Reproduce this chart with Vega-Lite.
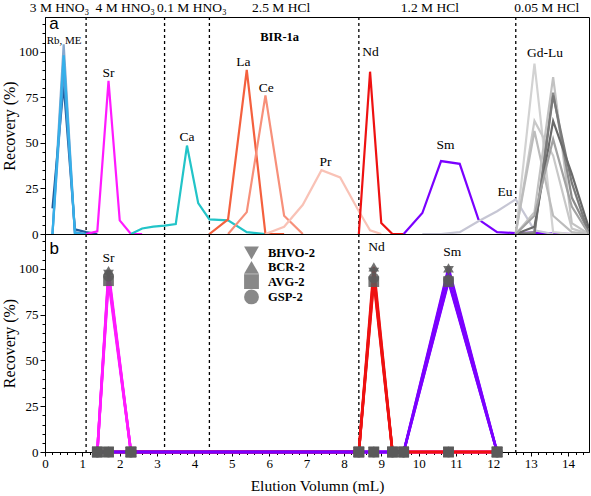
{
  "$schema": "https://vega.github.io/schema/vega-lite/v6.json",
  "padding": {"left": 0, "top": 0, "right": 3, "bottom": 0},
  "spacing": 0,
  "bounds": "flush",
  "config": {
    "font": "Liberation Serif",
    "view": {"stroke": "black", "strokeWidth": 1},
    "axis": {"labelFont": "Liberation Serif", "titleFont": "Liberation Serif", "labelFontSize": 13, "titleFontSize": 16, "titleFontWeight": "normal", "labelColor": "black", "titleColor": "black", "domainColor": "black", "tickColor": "black", "grid": false, "labelOverlap": false, "labelFlush": false},
    "legend": {"labelFont": "Liberation Serif", "labelFontSize": 12.5, "labelFontWeight": "bold", "labelColor": "black"}
  },
  "datasets": {
    "dashes": [{"x": 1.1}, {"x": 3.2}, {"x": 4.4}, {"x": 8.4}, {"x": 12.6}],
    "a": [
      {"s": "ME3", "x": 0.2, "y": 0}, {"s": "ME3", "x": 0.5, "y": 104}, {"s": "ME3", "x": 0.8, "y": 0}, {"s": "ME3", "x": 1.1, "y": 0},
      {"s": "Rb", "x": 0.2, "y": 14}, {"s": "Rb", "x": 0.5, "y": 82}, {"s": "Rb", "x": 0.8, "y": 2.5}, {"s": "Rb", "x": 1.1, "y": 1}, {"s": "Rb", "x": 1.4, "y": 0},
      {"s": "ME2", "x": 0.2, "y": 0}, {"s": "ME2", "x": 0.5, "y": 90}, {"s": "ME2", "x": 0.8, "y": 1}, {"s": "ME2", "x": 1.1, "y": 0},
      {"s": "ME1", "x": 0.2, "y": 0}, {"s": "ME1", "x": 0.5, "y": 98}, {"s": "ME1", "x": 0.8, "y": 0.5}, {"s": "ME1", "x": 1.1, "y": 0},
      {"s": "Sr", "x": 1.1, "y": 0}, {"s": "Sr", "x": 1.4, "y": 1.5}, {"s": "Sr", "x": 1.7, "y": 84}, {"s": "Sr", "x": 2.0, "y": 7.5}, {"s": "Sr", "x": 2.3, "y": 0}, {"s": "Sr", "x": 2.6, "y": 0},
      {"s": "Ca", "x": 2.3, "y": 0}, {"s": "Ca", "x": 2.6, "y": 3}, {"s": "Ca", "x": 2.9, "y": 4}, {"s": "Ca", "x": 3.2, "y": 4.6}, {"s": "Ca", "x": 3.5, "y": 5.5}, {"s": "Ca", "x": 3.8, "y": 48.5}, {"s": "Ca", "x": 4.1, "y": 17}, {"s": "Ca", "x": 4.4, "y": 8}, {"s": "Ca", "x": 4.9, "y": 7.5}, {"s": "Ca", "x": 5.4, "y": 1}, {"s": "Ca", "x": 5.9, "y": 0},
      {"s": "La", "x": 4.4, "y": 0}, {"s": "La", "x": 4.9, "y": 8}, {"s": "La", "x": 5.4, "y": 90}, {"s": "La", "x": 5.9, "y": 0}, {"s": "La", "x": 6.4, "y": 0},
      {"s": "Ce", "x": 4.9, "y": 0}, {"s": "Ce", "x": 5.4, "y": 12}, {"s": "Ce", "x": 5.9, "y": 76}, {"s": "Ce", "x": 6.4, "y": 10}, {"s": "Ce", "x": 6.9, "y": 0},
      {"s": "Pr", "x": 5.9, "y": 0}, {"s": "Pr", "x": 6.4, "y": 4}, {"s": "Pr", "x": 6.9, "y": 16}, {"s": "Pr", "x": 7.4, "y": 35}, {"s": "Pr", "x": 7.9, "y": 31}, {"s": "Pr", "x": 8.4, "y": 12.5}, {"s": "Pr", "x": 8.7, "y": 2}, {"s": "Pr", "x": 9.0, "y": 0},
      {"s": "Nd", "x": 8.4, "y": 0}, {"s": "Nd", "x": 8.7, "y": 89}, {"s": "Nd", "x": 9.0, "y": 6}, {"s": "Nd", "x": 9.3, "y": 0}, {"s": "Nd", "x": 9.6, "y": 0},
      {"s": "Sm", "x": 9.6, "y": 0}, {"s": "Sm", "x": 10.1, "y": 11.5}, {"s": "Sm", "x": 10.6, "y": 40}, {"s": "Sm", "x": 11.1, "y": 38.5}, {"s": "Sm", "x": 11.6, "y": 8}, {"s": "Sm", "x": 12.1, "y": 1}, {"s": "Sm", "x": 12.6, "y": 0.5}, {"s": "Sm", "x": 13.1, "y": 0.8}, {"s": "Sm", "x": 13.6, "y": 0.3}, {"s": "Sm", "x": 14.1, "y": 0},
      {"s": "Eu", "x": 10.1, "y": 0}, {"s": "Eu", "x": 10.6, "y": 0}, {"s": "Eu", "x": 11.1, "y": 1}, {"s": "Eu", "x": 11.6, "y": 7}, {"s": "Eu", "x": 12.1, "y": 12.5}, {"s": "Eu", "x": 12.6, "y": 19}, {"s": "Eu", "x": 13.1, "y": 2}, {"s": "Eu", "x": 13.6, "y": 0},
      {"s": "Gd", "x": 12.6, "y": 0}, {"s": "Gd", "x": 13.1, "y": 93.5}, {"s": "Gd", "x": 13.6, "y": 1}, {"s": "Gd", "x": 14.1, "y": 0}, {"s": "Gd", "x": 14.56, "y": 0},
      {"s": "Tb", "x": 12.6, "y": 0}, {"s": "Tb", "x": 13.1, "y": 62}, {"s": "Tb", "x": 13.6, "y": 43}, {"s": "Tb", "x": 14.1, "y": 3}, {"s": "Tb", "x": 14.56, "y": 0},
      {"s": "Dy", "x": 12.6, "y": 1}, {"s": "Dy", "x": 13.1, "y": 56.5}, {"s": "Dy", "x": 13.6, "y": 10}, {"s": "Dy", "x": 14.1, "y": 1}, {"s": "Dy", "x": 14.56, "y": 0},
      {"s": "Ho", "x": 12.6, "y": 0}, {"s": "Ho", "x": 13.1, "y": 12}, {"s": "Ho", "x": 13.6, "y": 86}, {"s": "Ho", "x": 14.1, "y": 6}, {"s": "Ho", "x": 14.56, "y": 0},
      {"s": "Er", "x": 12.6, "y": 0}, {"s": "Er", "x": 13.1, "y": 1}, {"s": "Er", "x": 13.6, "y": 77.5}, {"s": "Er", "x": 14.1, "y": 20}, {"s": "Er", "x": 14.56, "y": 1},
      {"s": "Tm", "x": 12.6, "y": 0}, {"s": "Tm", "x": 13.1, "y": 0}, {"s": "Tm", "x": 13.6, "y": 76}, {"s": "Tm", "x": 14.1, "y": 28}, {"s": "Tm", "x": 14.56, "y": 0},
      {"s": "Yb", "x": 12.6, "y": 0}, {"s": "Yb", "x": 13.1, "y": 4}, {"s": "Yb", "x": 13.6, "y": 62}, {"s": "Yb", "x": 14.1, "y": 33}, {"s": "Yb", "x": 14.56, "y": 3},
      {"s": "Lu", "x": 12.6, "y": 0}, {"s": "Lu", "x": 13.1, "y": 10}, {"s": "Lu", "x": 13.6, "y": 52}, {"s": "Lu", "x": 14.1, "y": 15}, {"s": "Lu", "x": 14.56, "y": 0}
    ],
    "labA": [
      {"k": "region", "t": "3 M HNO₃", "x": 0.39, "y": 123.7},
      {"k": "region", "t": "4 M HNO₃", "x": 2.15, "y": 123.7},
      {"k": "region", "t": "0.1 M HNO₃", "x": 3.93, "y": 123.7},
      {"k": "region", "t": "2.5 M HCl", "x": 6.32, "y": 123.7},
      {"k": "region", "t": "1.2 M HCl", "x": 10.3, "y": 123.7},
      {"k": "region", "t": "0.05 M HCl", "x": 13.43, "y": 123.7},
      {"k": "panel", "t": "a", "x": 0.24, "y": 115.3},
      {"k": "small", "t": "Rb, ME", "x": 0.51, "y": 105.6},
      {"k": "bold", "t": "BIR-1a", "x": 6.28, "y": 108.2},
      {"k": "el", "t": "Sr", "x": 1.7, "y": 88.5},
      {"k": "el", "t": "Ca", "x": 3.8, "y": 53.2},
      {"k": "el", "t": "La", "x": 5.31, "y": 94.3},
      {"k": "el", "t": "Ce", "x": 5.92, "y": 80},
      {"k": "el", "t": "Pr", "x": 7.51, "y": 39.5},
      {"k": "el", "t": "Nd", "x": 8.71, "y": 99.8},
      {"k": "el", "t": "Sm", "x": 10.72, "y": 48.8},
      {"k": "el", "t": "Eu", "x": 12.31, "y": 23},
      {"k": "el", "t": "Gd-Lu", "x": 13.38, "y": 99.5}
    ],
    "labB": [
      {"k": "panel", "t": "b", "x": 0.25, "y": 110.6},
      {"k": "el", "t": "Sr", "x": 1.7, "y": 105.7},
      {"k": "el", "t": "Nd", "x": 8.87, "y": 111.9},
      {"k": "el", "t": "Sm", "x": 10.9, "y": 109}
    ],
    "b": [
      {"sm": "BHVO-2", "el": "Sr", "x": 1.4, "y": 0}, {"sm": "BHVO-2", "el": "Sr", "x": 1.7, "y": 97}, {"sm": "BHVO-2", "el": "Sr", "x": 2.3, "y": 0}, {"sm": "BHVO-2", "el": "Sr", "x": 8.4, "y": 0}, {"sm": "BHVO-2", "el": "Sr", "x": 8.8, "y": 0}, {"sm": "BHVO-2", "el": "Sr", "x": 9.3, "y": 0}, {"sm": "BHVO-2", "el": "Sr", "x": 9.6, "y": 0}, {"sm": "BHVO-2", "el": "Sr", "x": 10.8, "y": 0}, {"sm": "BHVO-2", "el": "Sr", "x": 12.1, "y": 0},
      {"sm": "BCR-2", "el": "Sr", "x": 1.4, "y": 0}, {"sm": "BCR-2", "el": "Sr", "x": 1.7, "y": 99}, {"sm": "BCR-2", "el": "Sr", "x": 2.3, "y": 0}, {"sm": "BCR-2", "el": "Sr", "x": 8.4, "y": 0}, {"sm": "BCR-2", "el": "Sr", "x": 8.8, "y": 0}, {"sm": "BCR-2", "el": "Sr", "x": 9.3, "y": 0}, {"sm": "BCR-2", "el": "Sr", "x": 9.6, "y": 0}, {"sm": "BCR-2", "el": "Sr", "x": 10.8, "y": 0}, {"sm": "BCR-2", "el": "Sr", "x": 12.1, "y": 0},
      {"sm": "AVG-2", "el": "Sr", "x": 1.4, "y": 0}, {"sm": "AVG-2", "el": "Sr", "x": 1.7, "y": 93.5}, {"sm": "AVG-2", "el": "Sr", "x": 2.3, "y": 0}, {"sm": "AVG-2", "el": "Sr", "x": 8.4, "y": 0}, {"sm": "AVG-2", "el": "Sr", "x": 8.8, "y": 0}, {"sm": "AVG-2", "el": "Sr", "x": 9.3, "y": 0}, {"sm": "AVG-2", "el": "Sr", "x": 9.6, "y": 0}, {"sm": "AVG-2", "el": "Sr", "x": 10.8, "y": 0}, {"sm": "AVG-2", "el": "Sr", "x": 12.1, "y": 0},
      {"sm": "GSP-2", "el": "Sr", "x": 1.4, "y": 0}, {"sm": "GSP-2", "el": "Sr", "x": 1.7, "y": 96}, {"sm": "GSP-2", "el": "Sr", "x": 2.3, "y": 0}, {"sm": "GSP-2", "el": "Sr", "x": 8.4, "y": 0}, {"sm": "GSP-2", "el": "Sr", "x": 8.8, "y": 0}, {"sm": "GSP-2", "el": "Sr", "x": 9.3, "y": 0}, {"sm": "GSP-2", "el": "Sr", "x": 9.6, "y": 0}, {"sm": "GSP-2", "el": "Sr", "x": 10.8, "y": 0}, {"sm": "GSP-2", "el": "Sr", "x": 12.1, "y": 0},
      {"sm": "BHVO-2", "el": "Nd", "x": 1.4, "y": 0}, {"sm": "BHVO-2", "el": "Nd", "x": 1.7, "y": 0}, {"sm": "BHVO-2", "el": "Nd", "x": 2.3, "y": 0}, {"sm": "BHVO-2", "el": "Nd", "x": 8.4, "y": 0}, {"sm": "BHVO-2", "el": "Nd", "x": 8.8, "y": 98}, {"sm": "BHVO-2", "el": "Nd", "x": 9.3, "y": 0}, {"sm": "BHVO-2", "el": "Nd", "x": 9.6, "y": 0}, {"sm": "BHVO-2", "el": "Nd", "x": 10.8, "y": 0}, {"sm": "BHVO-2", "el": "Nd", "x": 12.1, "y": 0},
      {"sm": "BCR-2", "el": "Nd", "x": 1.4, "y": 0}, {"sm": "BCR-2", "el": "Nd", "x": 1.7, "y": 0}, {"sm": "BCR-2", "el": "Nd", "x": 2.3, "y": 0}, {"sm": "BCR-2", "el": "Nd", "x": 8.4, "y": 0}, {"sm": "BCR-2", "el": "Nd", "x": 8.8, "y": 101}, {"sm": "BCR-2", "el": "Nd", "x": 9.3, "y": 0}, {"sm": "BCR-2", "el": "Nd", "x": 9.6, "y": 0}, {"sm": "BCR-2", "el": "Nd", "x": 10.8, "y": 0}, {"sm": "BCR-2", "el": "Nd", "x": 12.1, "y": 0},
      {"sm": "AVG-2", "el": "Nd", "x": 1.4, "y": 0}, {"sm": "AVG-2", "el": "Nd", "x": 1.7, "y": 0}, {"sm": "AVG-2", "el": "Nd", "x": 2.3, "y": 0}, {"sm": "AVG-2", "el": "Nd", "x": 8.4, "y": 0}, {"sm": "AVG-2", "el": "Nd", "x": 8.8, "y": 93}, {"sm": "AVG-2", "el": "Nd", "x": 9.3, "y": 0}, {"sm": "AVG-2", "el": "Nd", "x": 9.6, "y": 0}, {"sm": "AVG-2", "el": "Nd", "x": 10.8, "y": 0}, {"sm": "AVG-2", "el": "Nd", "x": 12.1, "y": 0},
      {"sm": "GSP-2", "el": "Nd", "x": 1.4, "y": 0}, {"sm": "GSP-2", "el": "Nd", "x": 1.7, "y": 0}, {"sm": "GSP-2", "el": "Nd", "x": 2.3, "y": 0}, {"sm": "GSP-2", "el": "Nd", "x": 8.4, "y": 0}, {"sm": "GSP-2", "el": "Nd", "x": 8.8, "y": 95}, {"sm": "GSP-2", "el": "Nd", "x": 9.3, "y": 0}, {"sm": "GSP-2", "el": "Nd", "x": 9.6, "y": 0}, {"sm": "GSP-2", "el": "Nd", "x": 10.8, "y": 0}, {"sm": "GSP-2", "el": "Nd", "x": 12.1, "y": 0},
      {"sm": "BHVO-2", "el": "Sm", "x": 1.4, "y": 0}, {"sm": "BHVO-2", "el": "Sm", "x": 1.7, "y": 0}, {"sm": "BHVO-2", "el": "Sm", "x": 2.3, "y": 0}, {"sm": "BHVO-2", "el": "Sm", "x": 8.4, "y": 0}, {"sm": "BHVO-2", "el": "Sm", "x": 8.8, "y": 0}, {"sm": "BHVO-2", "el": "Sm", "x": 9.3, "y": 0}, {"sm": "BHVO-2", "el": "Sm", "x": 9.6, "y": 0}, {"sm": "BHVO-2", "el": "Sm", "x": 10.8, "y": 99}, {"sm": "BHVO-2", "el": "Sm", "x": 12.1, "y": 0},
      {"sm": "BCR-2", "el": "Sm", "x": 1.4, "y": 0}, {"sm": "BCR-2", "el": "Sm", "x": 1.7, "y": 0}, {"sm": "BCR-2", "el": "Sm", "x": 2.3, "y": 0}, {"sm": "BCR-2", "el": "Sm", "x": 8.4, "y": 0}, {"sm": "BCR-2", "el": "Sm", "x": 8.8, "y": 0}, {"sm": "BCR-2", "el": "Sm", "x": 9.3, "y": 0}, {"sm": "BCR-2", "el": "Sm", "x": 9.6, "y": 0}, {"sm": "BCR-2", "el": "Sm", "x": 10.8, "y": 100.5}, {"sm": "BCR-2", "el": "Sm", "x": 12.1, "y": 0},
      {"sm": "AVG-2", "el": "Sm", "x": 1.4, "y": 0}, {"sm": "AVG-2", "el": "Sm", "x": 1.7, "y": 0}, {"sm": "AVG-2", "el": "Sm", "x": 2.3, "y": 0}, {"sm": "AVG-2", "el": "Sm", "x": 8.4, "y": 0}, {"sm": "AVG-2", "el": "Sm", "x": 8.8, "y": 0}, {"sm": "AVG-2", "el": "Sm", "x": 9.3, "y": 0}, {"sm": "AVG-2", "el": "Sm", "x": 9.6, "y": 0}, {"sm": "AVG-2", "el": "Sm", "x": 10.8, "y": 93}, {"sm": "AVG-2", "el": "Sm", "x": 12.1, "y": 0},
      {"sm": "GSP-2", "el": "Sm", "x": 1.4, "y": 0}, {"sm": "GSP-2", "el": "Sm", "x": 1.7, "y": 0}, {"sm": "GSP-2", "el": "Sm", "x": 2.3, "y": 0}, {"sm": "GSP-2", "el": "Sm", "x": 8.4, "y": 0}, {"sm": "GSP-2", "el": "Sm", "x": 8.8, "y": 0}, {"sm": "GSP-2", "el": "Sm", "x": 9.3, "y": 0}, {"sm": "GSP-2", "el": "Sm", "x": 9.6, "y": 0}, {"sm": "GSP-2", "el": "Sm", "x": 10.8, "y": 94}, {"sm": "GSP-2", "el": "Sm", "x": 12.1, "y": 0}
    ]
  },
  "vconcat": [
    {
      "width": 544,
      "height": 217,
      "resolve": {"axis": {"x": "independent", "y": "independent"}},
      "layer": [
        {
          "data": {"name": "dashes"},
          "mark": {"type": "rule", "strokeDash": [3, 3], "strokeWidth": 1.3, "color": "black"},
          "encoding": {
            "x": {"field": "x", "type": "quantitative", "scale": {"domain": [0, 14.56], "nice": false, "zero": false}, "axis": null}
          }
        },
        {
          "data": {"name": "a"},
          "mark": {"type": "line", "strokeWidth": 2.2, "clip": true},
          "encoding": {
            "x": {"field": "x", "type": "quantitative", "axis": null},
            "y": {"field": "y", "type": "quantitative", "scale": {"domain": [0, 119], "nice": false},
              "axis": {"orient": "left", "values": [0, 25, 50, 75, 100], "labelOverlap": false, "tickSize": 5, "labelPadding": 2, "title": "Recovery (%)", "titlePadding": 1.5}},
            "color": {"field": "s", "type": "nominal", "legend": null,
              "scale": {"domain": ["ME3","Rb","ME2","ME1","Sr","Ca","La","Ce","Pr","Nd","Sm","Eu","Gd","Tb","Dy","Ho","Er","Tm","Yb","Lu"],
                "range": ["#86a8d0","#1e5c9c","#4f9ad6","#35b0ea","#ff1aff","#22c4c8","#f4603e","#f7907a","#f9c2b6","#ee1111","#7a00ff","#c6c6d4","#d2d2d2","#c8c8c8","#bcbcbc","#c2c2c2","#8a8a8a","#7a7a7a","#6a6a6a","#a2a2a2"]}}
          }
        },
        {
          "data": {"name": "labA"},
          "transform": [{"filter": "datum.k === 'region' || datum.k === 'el'"}],
          "mark": {"type": "text", "fontSize": 13.5, "font": "Liberation Serif", "color": "black", "baseline": "middle"},
          "encoding": {
            "x": {"field": "x", "type": "quantitative", "axis": null},
            "y": {"field": "y", "type": "quantitative", "scale": {"domain": [0, 119], "nice": false},
              "axis": {"orient": "left", "values": [5,10,15,20,30,35,40,45,55,60,65,70,80,85,90,95,105,110,115], "labels": false, "tickSize": 3, "domain": false, "title": null}},
            "text": {"field": "t"}
          }
        },
        {
          "data": {"name": "labA"},
          "transform": [{"filter": "datum.k === 'small'"}],
          "mark": {"type": "text", "fontSize": 11, "font": "Liberation Serif", "color": "black", "baseline": "middle"},
          "encoding": {"x": {"field": "x", "type": "quantitative", "axis": null}, "y": {"field": "y", "type": "quantitative", "axis": null}, "text": {"field": "t"}}
        },
        {
          "data": {"name": "labA"},
          "transform": [{"filter": "datum.k === 'bold'"}],
          "mark": {"type": "text", "fontSize": 12.5, "fontWeight": "bold", "font": "Liberation Serif", "color": "black", "baseline": "middle"},
          "encoding": {"x": {"field": "x", "type": "quantitative", "axis": null}, "y": {"field": "y", "type": "quantitative", "axis": null}, "text": {"field": "t"}}
        },
        {
          "data": {"name": "labA"},
          "transform": [{"filter": "datum.k === 'panel'"}],
          "mark": {"type": "text", "fontSize": 17, "font": "Liberation Sans", "color": "black", "baseline": "middle"},
          "encoding": {"x": {"field": "x", "type": "quantitative", "axis": null}, "y": {"field": "y", "type": "quantitative", "axis": null}, "text": {"field": "t"}}
        }
      ]
    },
    {
      "width": 544,
      "height": 218,
      "resolve": {"axis": {"x": "independent", "y": "independent"}},
      "layer": [
        {
          "data": {"name": "dashes"},
          "mark": {"type": "rule", "strokeDash": [3, 3], "strokeWidth": 1.3, "color": "black"},
          "encoding": {
            "x": {"field": "x", "type": "quantitative", "scale": {"domain": [0, 14.56], "nice": false, "zero": false},
              "axis": {"orient": "bottom", "values": [0,1,2,3,4,5,6,7,8,9,10,11,12,13,14], "labelOverlap": false, "tickSize": 4, "labelPadding": 1, "title": "Elution Volumn (mL)", "titlePadding": 8, "titleFontSize": 15.5}}
          }
        },
        {
          "data": {"name": "b"},
          "mark": {"type": "line", "strokeWidth": 2.6},
          "encoding": {
            "x": {"field": "x", "type": "quantitative", "scale": {"domain": [0, 14.56], "nice": false, "zero": false},
              "axis": {"orient": "bottom", "values": [0.2,0.4,0.6,0.8,1.2,1.4,1.6,1.8,2.2,2.4,2.6,2.8,3.2,3.4,3.6,3.8,4.2,4.4,4.6,4.8,5.2,5.4,5.6,5.8,6.2,6.4,6.6,6.8,7.2,7.4,7.6,7.8,8.2,8.4,8.6,8.8,9.2,9.4,9.6,9.8,10.2,10.4,10.6,10.8,11.2,11.4,11.6,11.8,12.2,12.4,12.6,12.8,13.2,13.4,13.6,13.8,14.2,14.4], "labels": false, "tickSize": 2.5, "domain": false, "title": null}},
            "y": {"field": "y", "type": "quantitative", "scale": {"domain": [0, 119], "nice": false},
              "axis": {"orient": "left", "values": [0, 25, 50, 75, 100], "labelOverlap": false, "tickSize": 5, "labelPadding": 2, "title": "Recovery (%)", "titlePadding": 1.5}},
            "color": {"field": "el", "type": "nominal", "legend": null, "scale": {"domain": ["Sr", "Nd", "Sm"], "range": ["#ff1aff", "#ff0000", "#7f00ff"]}},
            "detail": {"field": "sm", "type": "nominal"}
          }
        },
        {
          "data": {"name": "b"},
          "mark": {"type": "point", "filled": true, "color": "#5a5a5a", "opacity": 0.85, "size": 115},
          "encoding": {
            "x": {"field": "x", "type": "quantitative", "axis": null},
            "y": {"field": "y", "type": "quantitative", "scale": {"domain": [0, 119], "nice": false},
              "axis": {"orient": "left", "values": [5,10,15,20,30,35,40,45,55,60,65,70,80,85,90,95,105,110,115], "labels": false, "tickSize": 3, "domain": false, "title": null}},
            "shape": {"field": "sm", "type": "nominal", "title": null,
              "scale": {"domain": ["BHVO-2", "BCR-2", "AVG-2", "GSP-2"], "range": ["triangle-down", "triangle-up", "square", "circle"]},
              "legend": {"orient": "none", "legendX": 199, "legendY": 228.5, "padding": 0, "symbolSize": 220, "rowPadding": 0.3, "labelOffset": 9, "symbolOpacity": 0.72, "symbolStrokeWidth": 0}}
          }
        },
        {
          "data": {"name": "labB"},
          "transform": [{"filter": "datum.k === 'el'"}],
          "mark": {"type": "text", "fontSize": 13.5, "font": "Liberation Serif", "color": "black", "baseline": "middle"},
          "encoding": {"x": {"field": "x", "type": "quantitative", "axis": null}, "y": {"field": "y", "type": "quantitative", "axis": null}, "text": {"field": "t"}}
        },
        {
          "data": {"name": "labB"},
          "transform": [{"filter": "datum.k === 'panel'"}],
          "mark": {"type": "text", "fontSize": 17, "font": "Liberation Sans", "color": "black", "baseline": "middle"},
          "encoding": {"x": {"field": "x", "type": "quantitative", "axis": null}, "y": {"field": "y", "type": "quantitative", "axis": null}, "text": {"field": "t"}}
        }
      ]
    }
  ]
}
